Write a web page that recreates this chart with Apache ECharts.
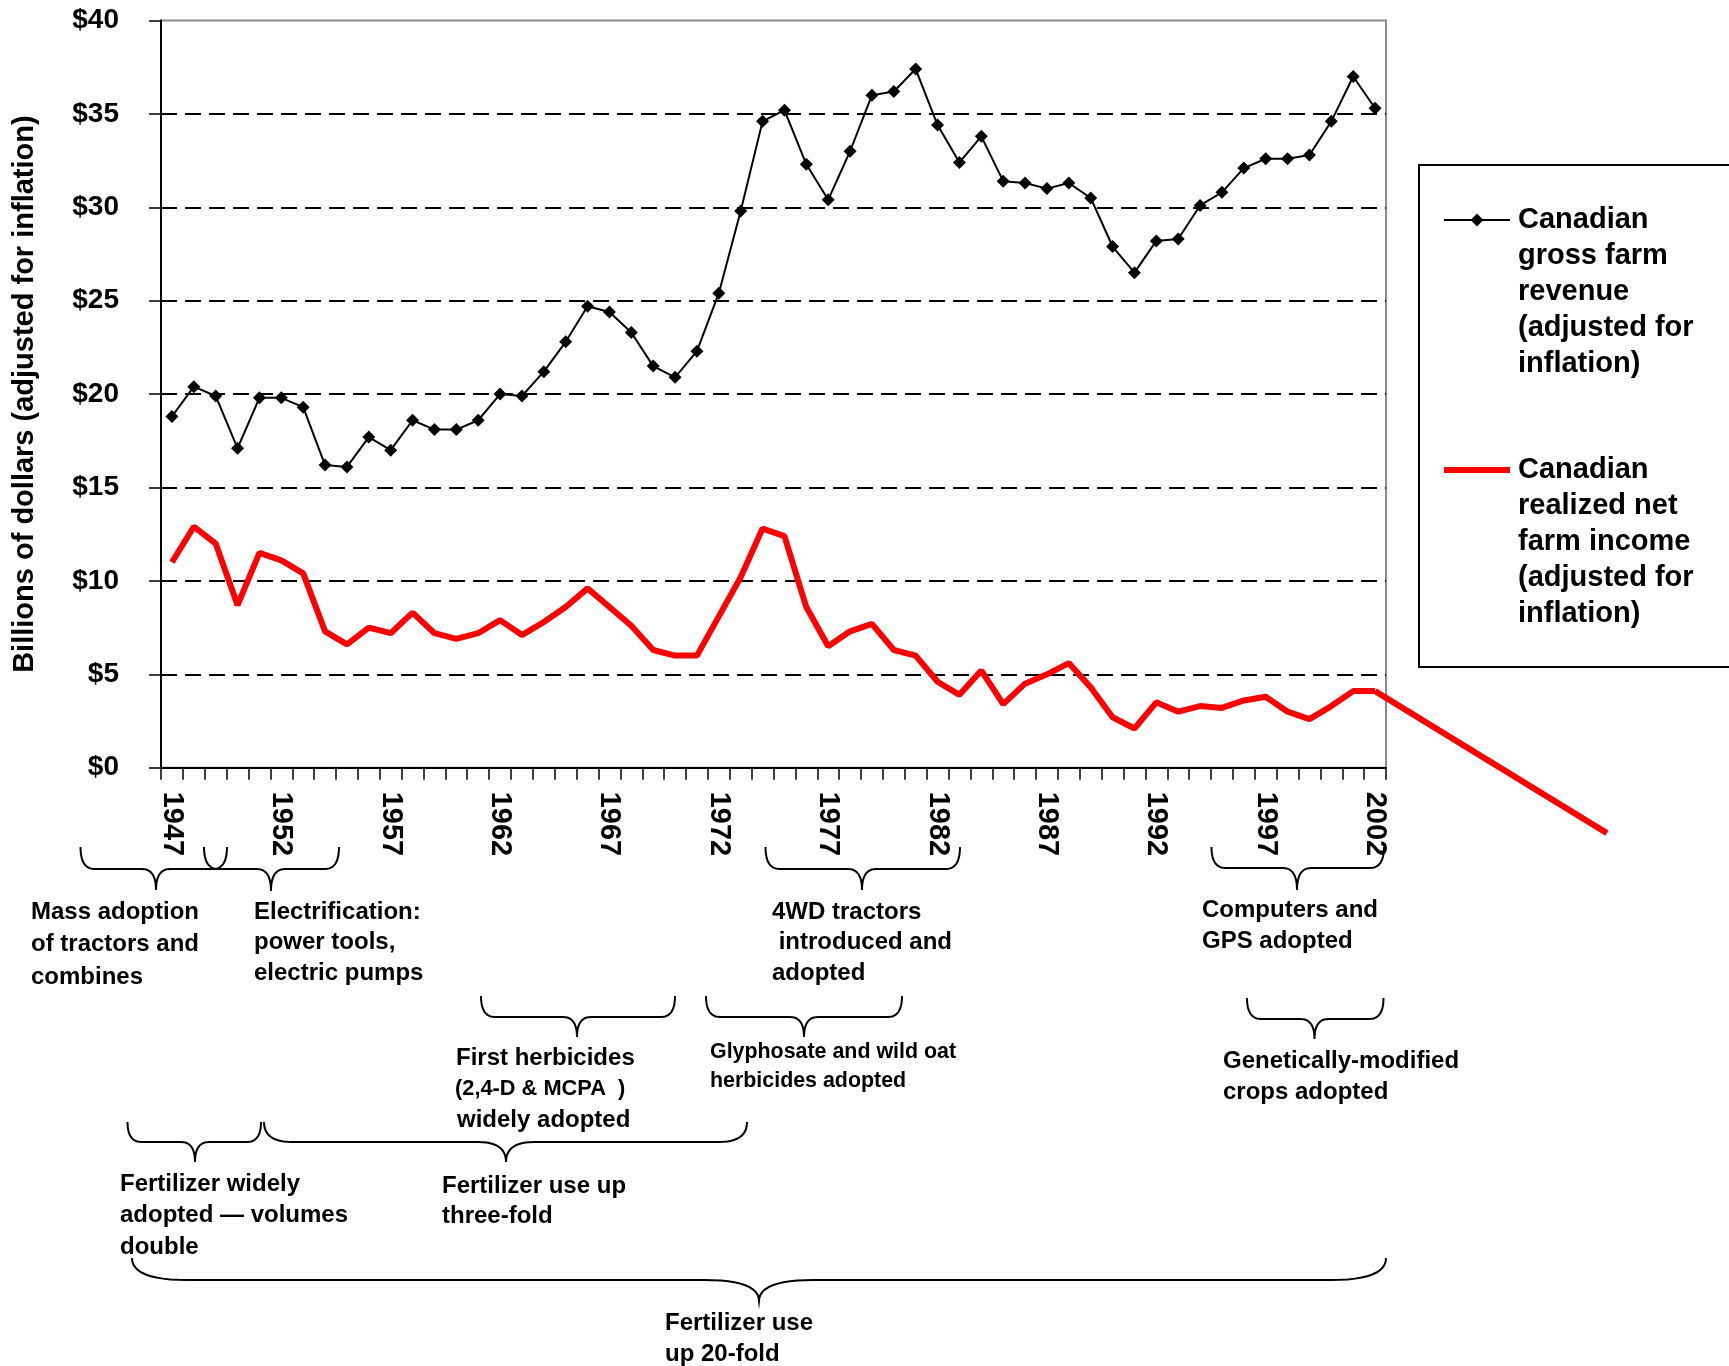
<!DOCTYPE html>
<html>
<head>
<meta charset="utf-8">
<script src="https://cdn.jsdelivr.net/npm/echarts@6/dist/echarts.min.js"></script>
<style>
html, body { margin: 0; padding: 0; background: #ffffff; }
#chart { width: 1729px; height: 1366px; }
</style>
</head>
<body>
<div id="chart"></div>
<script>
// ---------------- data ----------------
const years = ['1947','1948','1949','1950','1951','1952','1953','1954','1955','1956',
  '1957','1958','1959','1960','1961','1962','1963','1964','1965','1966',
  '1967','1968','1969','1970','1971','1972','1973','1974','1975','1976',
  '1977','1978','1979','1980','1981','1982','1983','1984','1985','1986',
  '1987','1988','1989','1990','1991','1992','1993','1994','1995','1996',
  '1997','1998','1999','2000','2001','2002'];

const grossRevenue = [18.8, 20.4, 19.9, 17.1, 19.8, 19.8, 19.3, 16.2, 16.1, 17.7,
  17.0, 18.6, 18.1, 18.1, 18.6, 20.0, 19.9, 21.2, 22.8, 24.7,
  24.4, 23.3, 21.5, 20.9, 22.3, 25.4, 29.8, 34.6, 35.2, 32.3,
  30.4, 33.0, 36.0, 36.2, 37.4, 34.4, 32.4, 33.8, 31.4, 31.3,
  31.0, 31.3, 30.5, 27.9, 26.5, 28.2, 28.3, 30.1, 30.8, 32.1,
  32.6, 32.6, 32.8, 34.6, 37.0, 35.3];

const netIncome = [11.0, 12.9, 12.0, 8.7, 11.5, 11.1, 10.4, 7.3, 6.6, 7.5,
  7.2, 8.3, 7.2, 6.9, 7.2, 7.9, 7.1, 7.8, 8.6, 9.6,
  8.6, 7.6, 6.3, 6.0, 6.0, 8.1, 10.2, 12.8, 12.4, 8.6,
  6.5, 7.3, 7.7, 6.3, 6.0, 4.6, 3.9, 5.2, 3.4, 4.5,
  5.0, 5.6, 4.3, 2.7, 2.1, 3.5, 3.0, 3.3, 3.2, 3.6,
  3.8, 3.0, 2.6, 3.3, 4.1, 4.1];

// the net-income line runs on past the plot frame to this [year, value] point
const netIncomeRunOut = [2012.6, -3.5];

const grossName = 'Canadian\ngross farm\nrevenue\n(adjusted for\ninflation)';
const netName = 'Canadian\nrealized net\nfarm income\n(adjusted for\ninflation)';
const yAxisTitle = 'Billions of dollars (adjusted for inflation)';

// annotations below the axis (text + braces), laid out in page pixels
const annotations = [
  { lines: ['Mass adoption', 'of tractors and', 'combines'], x: 31, y: 912, lh: 32.5, fs: 24 },
  { lines: ['Electrification:', 'power tools,', 'electric pumps'], x: 254, y: 912, lh: 30.5, fs: 24 },
  { lines: ['4WD tractors', ' introduced and', 'adopted'], x: 772, y: 912, lh: 30.5, fs: 24 },
  { lines: ['Computers and', 'GPS adopted'], x: 1202, y: 910, lh: 31, fs: 24 },
  { lines: ['First herbicides'], x: 456, y: 1058, lh: 31, fs: 24 },
  { lines: ['(2,4-D & MCPA  )'], x: 455, y: 1089, lh: 31, fs: 21.8 },
  { lines: ['widely adopted'], x: 457, y: 1120, lh: 31, fs: 24 },
  { lines: ['Glyphosate and wild oat', 'herbicides adopted'], x: 710, y: 1052.5, lh: 28.5, fs: 21.4 },
  { lines: ['Genetically-modified', 'crops adopted'], x: 1223, y: 1061, lh: 31, fs: 24 },
  { lines: ['Fertilizer widely', 'adopted \u2014 volumes', 'double'], x: 120, y: 1184, lh: 31.5, fs: 24 },
  { lines: ['Fertilizer use up', 'three-fold'], x: 442, y: 1186.5, lh: 30, fs: 24 },
  { lines: ['Fertilizer use', 'up 20-fold'], x: 665, y: 1323.5, lh: 31, fs: 24 }
];

const braces = [
  { x1: 80.5, x2: 227, xm: 156, yTop: 847, yBar: 869, yTip: 890, r: 14, rm: 14 },
  { x1: 204, x2: 339, xm: 271, yTop: 847, yBar: 869, yTip: 891, r: 14, rm: 14 },
  { x1: 765.5, x2: 960, xm: 862, yTop: 847, yBar: 869, yTip: 890, r: 14, rm: 14 },
  { x1: 1211.5, x2: 1384, xm: 1297, yTop: 847, yBar: 868, yTip: 890, r: 14, rm: 14 },
  { x1: 481, x2: 675, xm: 577, yTop: 996, yBar: 1017, yTip: 1037, r: 14, rm: 14 },
  { x1: 706, x2: 902, xm: 804, yTop: 996, yBar: 1017, yTip: 1037, r: 14, rm: 14 },
  { x1: 1247, x2: 1383.5, xm: 1314.5, yTop: 998, yBar: 1019, yTip: 1039, r: 14, rm: 14 },
  { x1: 127.5, x2: 261, xm: 195, yTop: 1122, yBar: 1142, yTip: 1162, r: 14, rm: 14 },
  { x1: 264, x2: 747, xm: 506, yTop: 1122, yBar: 1142, yTip: 1162, r: 28, rm: 28 },
  { x1: 132, x2: 1386, xm: 759, yTop: 1258, yBar: 1280, yTip: 1301, r: 55, rm: 55 }
];

// ---------------- chart ----------------
const FONT = '"Liberation Sans", Arial, Helvetica, sans-serif';

// plot frame
const PLOT = { left: 161, top: 20.5, width: 1225, height: 747.2 };
const X_MIN = 1946.5, X_MAX = 2002.5, Y_MIN = 0, Y_MAX = 40;
// an invisible, larger grid with the same scale, used for the run-out segment
const EXT_X_MAX = 2015.5, EXT_Y_MIN = -5;
const extGrid = {
  left: PLOT.left, top: PLOT.top,
  width: PLOT.width * (EXT_X_MAX - X_MIN) / (X_MAX - X_MIN),
  height: PLOT.height * (Y_MAX - EXT_Y_MIN) / (Y_MAX - Y_MIN)
};

function quad(p0, c, p1, n) {
  const out = [];
  for (let i = 1; i <= n; i++) {
    const t = i / n, u = 1 - t;
    out.push([u * u * p0[0] + 2 * u * t * c[0] + t * t * p1[0],
              u * u * p0[1] + 2 * u * t * c[1] + t * t * p1[1]]);
  }
  return out;
}
function bracePoints(b) {
  const pts = [[b.x1, b.yTop]];
  pts.push(...quad([b.x1, b.yTop], [b.x1, b.yBar], [b.x1 + b.r, b.yBar], 12));
  pts.push([b.xm - b.rm, b.yBar]);
  pts.push(...quad([b.xm - b.rm, b.yBar], [b.xm, b.yBar], [b.xm, b.yTip], 12));
  pts.push(...quad([b.xm, b.yTip], [b.xm, b.yBar], [b.xm + b.rm, b.yBar], 12));
  pts.push([b.x2 - b.r, b.yBar]);
  pts.push(...quad([b.x2 - b.r, b.yBar], [b.x2, b.yBar], [b.x2, b.yTop], 12));
  return pts;
}

const graphics = [];
braces.forEach(b => {
  graphics.push({ type: 'polyline', silent: true, shape: { points: bracePoints(b) },
    style: { stroke: '#000', lineWidth: 2, fill: null } });
});
annotations.forEach(a => {
  a.lines.forEach((t, i) => {
    graphics.push({ type: 'text', silent: true,
      style: { text: t, x: a.x, y: a.y + i * a.lh, fill: '#000',
        font: 'bold ' + a.fs + 'px ' + FONT, verticalAlign: 'middle', align: 'left' } });
  });
});
// legend frame
graphics.push({ type: 'rect', silent: true, shape: { x: 1419, y: 165, width: 360, height: 502 },
  style: { fill: null, stroke: '#000', lineWidth: 2 } });

const chart = echarts.init(document.getElementById('chart'));
chart.setOption({
  animation: false,
  backgroundColor: '#ffffff',
  grid: [
    { left: PLOT.left, top: PLOT.top, width: PLOT.width, height: PLOT.height, show: true,
      borderColor: '#8c8c8c', borderWidth: 2, backgroundColor: 'transparent' },
    { left: extGrid.left, top: extGrid.top, width: extGrid.width, height: extGrid.height, show: false }
  ],
  legend: {
    data: [{ name: grossName },
           { name: netName, itemStyle: { opacity: 0 }, lineStyle: { width: 6, color: '#ff0000' } }],
    orient: 'vertical', left: 1441, top: 58, padding: 0,
    itemWidth: 66, itemHeight: 16, itemGap: -74, selectedMode: false,
    // leading blank lines put the icon level with the first text line
    formatter: name => '\n\n\n\n' + name,
    textStyle: { fontFamily: FONT, fontWeight: 'bold', fontSize: 29, lineHeight: 36,
      color: '#000', padding: [0, 0, 0, 3] }
  },
  xAxis: [
    { type: 'category', data: years, boundaryGap: true, gridIndex: 0,
      axisLine: { lineStyle: { color: '#000', width: 2 } },
      axisTick: { show: true, interval: 0, length: 12, lineStyle: { color: '#000', width: 1.5 } },
      axisLabel: { interval: 4, rotate: -90, margin: 24, fontSize: 29, fontWeight: 'bold',
        fontFamily: FONT, color: '#000' },
      splitLine: { show: false } },
    { type: 'value', gridIndex: 1, min: X_MIN, max: EXT_X_MAX, show: false }
  ],
  yAxis: [
    { type: 'value', gridIndex: 0, min: Y_MIN, max: Y_MAX, interval: 5,
      name: yAxisTitle, nameLocation: 'middle', nameRotate: 90, nameGap: 122,
      nameTextStyle: { fontFamily: FONT, fontWeight: 'bold', fontSize: 29, color: '#000' },
      axisLine: { show: true, lineStyle: { color: '#000', width: 2 } },
      axisTick: { show: true, length: 12, lineStyle: { color: '#000', width: 1.5 } },
      axisLabel: { formatter: '${value}', margin: 42, fontSize: 28, fontWeight: 'bold',
        fontFamily: FONT, color: '#000' },
      splitLine: { show: true, showMinLine: false, showMaxLine: false,
        lineStyle: { color: '#000', width: 2, type: [16, 8] } } },
    { type: 'value', gridIndex: 1, min: EXT_Y_MIN, max: Y_MAX, show: false }
  ],
  series: [
    { name: netName, type: 'line', xAxisIndex: 0, yAxisIndex: 0, data: netIncome, symbol: 'none',
      lineStyle: { color: '#ff0000', width: 6 }, itemStyle: { color: '#ff0000' }, z: 2 },
    { name: 'run-out', type: 'line', xAxisIndex: 1, yAxisIndex: 1, symbol: 'none',
      data: [[Number(years[years.length - 1]), netIncome[netIncome.length - 1]], netIncomeRunOut],
      lineStyle: { color: '#ff0000', width: 6 }, itemStyle: { color: '#ff0000' }, z: 2 },
    { name: grossName, type: 'line', xAxisIndex: 0, yAxisIndex: 0, data: grossRevenue,
      symbol: 'diamond', symbolSize: 13,
      lineStyle: { color: '#000', width: 2 }, itemStyle: { color: '#000' }, z: 3 }
  ],
  graphic: { elements: graphics }
});
</script>
</body>
</html>
